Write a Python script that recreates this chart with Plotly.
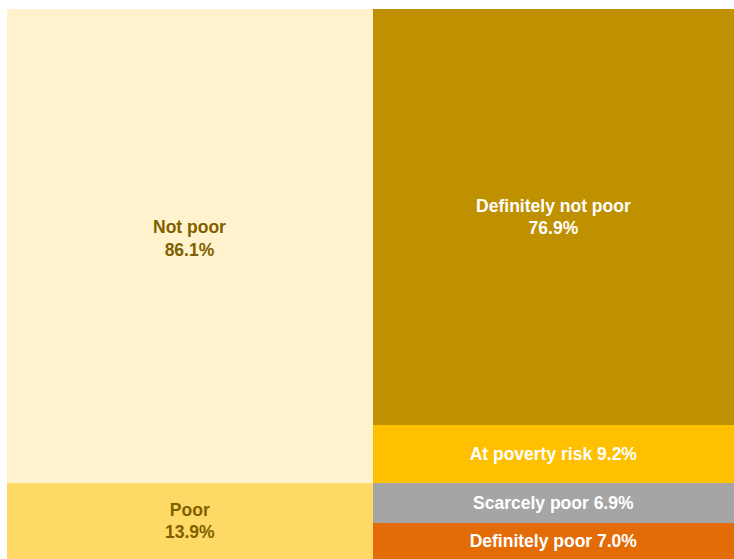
import plotly.graph_objects as go

# Left column: overall poverty status (bottom to top)
left_categories = ["Poor", "Not poor"]
left_values = [13.8, 86.2]
left_labels = ["Poor<br>13.9%", "Not poor<br>86.1%"]
left_colors = ["#FFD966", "#FFF2CC"]
left_text_colors = ["#7F6000", "#7F6000"]

# Right column: detailed breakdown (bottom to top)
right_categories = ["Definitely poor", "Scarcely poor", "At poverty risk", "Definitely not poor"]
right_values = [6.5, 7.3, 10.5, 75.7]
right_labels = ["Definitely poor 7.0%", "Scarcely poor 6.9%", "At poverty risk 9.2%",
                "Definitely not poor<br>76.9%"]
right_colors = ["#E36C09", "#A5A5A5", "#FFC000", "#BF9000"]
right_text_colors = ["#FFFFFF", "#FFFFFF", "#FFFFFF", "#FFFFFF"]

# Column widths (share of horizontal space)
column_widths = [50.3, 49.7]

FONT = "Liberation Sans, Arial, sans-serif"
FSIZE = 17.5

fig = go.Figure()
x_left = column_widths[0] / 2
x_right = column_widths[0] + column_widths[1] / 2

base = 0.0
for cat, val, lab, col, tcol in zip(left_categories, left_values, left_labels, left_colors, left_text_colors):
    use_annot = (cat == "Not poor")
    fig.add_trace(go.Bar(
        x=[x_left], y=[val], width=[column_widths[0]], name=cat,
        marker=dict(color=col, line=dict(width=0)),
        text=[lab], textposition="none" if use_annot else "inside",
        insidetextanchor="middle",
        textfont=dict(color=tcol, size=FSIZE, family=FONT, weight="bold"),
        hoverinfo="name", showlegend=False,
    ))
    if use_annot:
        fig.add_annotation(
            x=x_left, y=base + val / 2, text=lab, showarrow=False,
            yshift=8, align="center",
            font=dict(color=tcol, size=FSIZE, family=FONT, weight="bold"),
        )
    base += val

for cat, val, lab, col, tcol in zip(right_categories, right_values, right_labels, right_colors, right_text_colors):
    fig.add_trace(go.Bar(
        x=[x_right], y=[val], width=[column_widths[1]], name=cat,
        marker=dict(color=col, line=dict(width=0)),
        text=[lab], textposition="inside", insidetextanchor="middle",
        textfont=dict(color=tcol, size=FSIZE, family=FONT, weight="bold"),
        hoverinfo="name", showlegend=False,
    ))

fig.update_layout(
    width=734, height=559,
    margin=dict(l=7, r=0, t=9, b=0),
    barmode="stack", bargap=0,
    paper_bgcolor="white", plot_bgcolor="white",
    uniformtext=dict(mode=False),
    xaxis=dict(range=[0, sum(column_widths)], visible=False, fixedrange=True),
    yaxis=dict(range=[0, 100], visible=False, fixedrange=True),
    font=dict(family=FONT),
)

fig.write_html("out.html")
